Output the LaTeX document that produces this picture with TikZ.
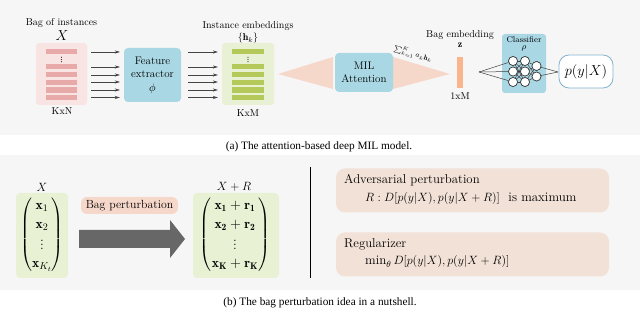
\documentclass[tikz,border=0pt]{standalone}
\usepackage{amsmath,amssymb}
\usepackage{fontspec}
\newfontfamily\capfont{Liberation Serif}
\usetikzlibrary{arrows.meta,calc}
\definecolor{panelgray}{HTML}{F6F6F6}
\definecolor{pinkbg}{HTML}{F9E4E4}
\definecolor{pinkbar}{HTML}{E8A9A9}
\definecolor{bluebox}{HTML}{A9D7E4}
\definecolor{greenbg}{HTML}{E9F1D5}
\definecolor{greenbar}{HTML}{B5C85A}
\definecolor{peach}{HTML}{F6D8CB}
\definecolor{peachbox}{HTML}{F2E1D6}
\definecolor{orangebar}{HTML}{FBB58A}
\definecolor{pborder}{HTML}{82B4CC}
\definecolor{bigarrow}{HTML}{676767}
\definecolor{arrgray}{HTML}{444444}
\tikzset{
  arr/.style={draw=arrgray, line width=0.6pt, -{Stealth[length=5pt,width=3.2pt]}},
  boxblue/.style={fill=bluebox, rounded corners=4pt, inner sep=0pt, align=center},
  neuron/.style={circle, draw=black!80, fill=white, line width=0.6pt, minimum size=9pt, inner sep=0pt},
  nnedge/.style={draw=black!75, line width=0.5pt},
  txt/.style={font=\fontsize{10}{12}\selectfont, inner sep=0pt},
  btxt/.style={font=\fontsize{12.8}{15}\selectfont, inner sep=0pt},
  ftxt/.style={font=\fontsize{13}{15}\selectfont, inner sep=0pt},
  mtxt/.style={font=\fontsize{13.6}{16.5}\selectfont, inner sep=0pt},
  captxt/.style={font=\capfont\fontsize{11.3}{13}\selectfont, inner sep=0pt},
}
\begin{document}
\begin{tikzpicture}[x=1pt,y=-1pt]
\useasboundingbox (0,0) rectangle (640,320);
% panels
\fill[panelgray] (0,0) rectangle (640,135);
\fill[panelgray] (0,155) rectangle (640,290);

% ---------- top panel ----------
\node[txt] (bagt) at (61.5,23) {Bag of instances};
\node[inner sep=0pt, font=\fontsize{14}{16}\selectfont] (bagX) at (62,36) {$X$};
\node[fill=pinkbg, rounded corners=3pt, minimum width=51pt, minimum height=62pt, inner sep=0pt] (bag) at (61.5,74) {};
\foreach \y in {51.5,66.5,74.5,82.5,90,97.5} \fill[pinkbar] (46,\y-2.6) rectangle (77,\y+2.6);
\foreach \d in {-2.2,0,2.2} \fill[black!80] (61.5,59.5+\d) circle (0.6);
\node[txt] (kxn) at (62,111) {KxN};

\node[boxblue, minimum width=57pt, minimum height=54pt, font=\fontsize{11}{13.5}\selectfont] (fe) at (152.5,75) {Feature\\extractor\\$\phi$};

\node[txt] (iet) at (248,26) {Instance embeddings};
\node[txt] (hk) at (248,38.5) {$\{\mathbf{h}_k\}$};
\node[fill=greenbg, rounded corners=3pt, minimum width=52pt, minimum height=62pt, inner sep=0pt] (emb) at (248,74) {};
\foreach \y in {51.5,66.5,74.5,82.5,90,97.5} \fill[greenbar] (232,\y-2.6) rectangle (264,\y+2.6);
\foreach \d in {-2.2,0,2.2} \fill[black!80] (248,59.5+\d) circle (0.6);
\node[txt] (kxm) at (248,113) {KxM};

\foreach \y in {52,67,75,82,90,97.5} {
  \draw[arr] ($(bag.east |- 0,\y)+(4,0)$) -- ($(fe.west |- 0,\y)+(-4,0)$);
  \draw[arr] ($(fe.east |- 0,\y)+(7,0)$) -- ($(emb.west |- 0,\y)+(-4,0)$);
}

% attention
\coordinate (tl) at (278,74);
\coordinate (tr) at (450,74);
\fill[peach] (tl) -- (333,57) -- (333,89) -- cycle;
\fill[peach] (393,57) -- (393,89) -- (tr) -- cycle;
\node[boxblue, minimum width=58pt, minimum height=39pt, font=\fontsize{11}{13.5}\selectfont] (mil) at (364,72.5) {MIL\\Attention};
\node[inner sep=0pt, rotate=-16.6, font=\fontsize{7}{8}\selectfont] (sum) at (413,54) {$\sum_{k=1}^{K} a_k\mathbf{h}_k$};

% bag embedding
\node[txt] (bet) at (460,35) {Bag embedding};
\node[txt] (z) at (460,45.5) {$\mathbf{z}$};
\fill[orangebar] (457,57) rectangle (463,88);
\node[txt] (oxm) at (460,96) {1xM};

% classifier
\node[fill=bluebox, rounded corners=3pt, minimum width=44pt, minimum height=59pt, inner sep=0pt] (cls) at (524,63.5) {};
\node[inner sep=0pt, font=\fontsize{8.3}{10}\selectfont] (clst) at (524,40) {Classifier};
\node[inner sep=0pt, font=\fontsize{9}{10}\selectfont] (rho) at (524,48.5) {$\rho$};
\coordinate (nin) at (479,72);
\coordinate (nout) at (558,72);
\foreach \i/\y in {1/61,2/71.5,3/82} {
  \node[neuron] (a\i) at (513,\y) {};
  \node[neuron] (b\i) at (525,\y) {};
}
\node[neuron] (c1) at (536.5,66) {};
\node[neuron] (c2) at (536.5,76.5) {};
\foreach \i in {1,2,3} {
  \draw[nnedge] (nin) -- (a\i);
  \foreach \j in {1,2,3} \draw[nnedge] (a\i) -- (b\j);
  \foreach \j in {1,2} \draw[nnedge] (b\i) -- (c\j);
}
\foreach \j in {1,2} \draw[nnedge] (c\j) -- (nout);
\foreach \i/\y in {1/61,2/71.5,3/82} {
  \node[neuron] at (513,\y) {};
  \node[neuron] at (525,\y) {};
}
\node[neuron] at (536.5,66) {};
\node[neuron] at (536.5,76.5) {};

\node[draw=pborder, line width=0.8pt, fill=white, rounded corners=10pt, minimum width=54pt, minimum height=33pt, inner sep=0pt, font=\fontsize{14}{16}\selectfont] (pyx) at (586,71.5) {$p(y|X)$};

\node[captxt] (capa) at (319,147) {(a) The attention-based deep MIL model.};

% ---------- bottom panel ----------
\node[inner sep=0pt, font=\fontsize{13}{15}\selectfont] (Xl) at (42,187) {$X$};
\node[fill=greenbg, rounded corners=4pt, minimum width=52pt, minimum height=85pt, inner sep=0pt] (lm) at (42,235.5) {};
\node[mtxt] (lmat) at (42,235) {$\renewcommand{\arraystretch}{1.12}\begin{pmatrix}\mathbf{x}_1\\ \mathbf{x}_2\\ \vdots\\ \mathbf{x}_{K_t}\end{pmatrix}$};

\node[fill=peach, rounded corners=6pt, minimum width=97pt, minimum height=17pt, inner sep=0pt, font=\fontsize{11.8}{14}\selectfont] (bp) at (129.5,205.5) {Bag perturbation};
\fill[bigarrow] (79,230) -- (170,230) -- (170,220) -- (185,239) -- (170,258) -- (170,248) -- (79,248) -- cycle;

\node[inner sep=0pt, font=\fontsize{13}{15}\selectfont] (XR) at (234,187) {$X+R$};
\node[fill=greenbg, rounded corners=4pt, minimum width=86pt, minimum height=85pt, inner sep=0pt] (rm) at (236,235.5) {};
\node[mtxt] (rmat) at (235,235) {$\renewcommand{\arraystretch}{1.12}\begin{pmatrix}\mathbf{x_1}+\mathbf{r_1}\\ \mathbf{x_2}+\mathbf{r_2}\\ \vdots\\ \mathbf{x_K}+\mathbf{r_K}\end{pmatrix}$};

\coordinate (vt) at (310,167);
\coordinate (vb) at (310,278);
\draw[black, line width=0.8pt] (vt) -- (vb);

\node[fill=peachbox, rounded corners=9pt, minimum width=273pt, minimum height=44pt, inner sep=0pt] (adv) at (472.5,190.5) {};
\node[btxt, anchor=west] (advt) at (344,180) {Adversarial perturbation};
\node[ftxt, anchor=west] (advf) at (365,199) {$R: D[p(y|X),p(y|X+R)]$\ \ is maximum};

\node[fill=peachbox, rounded corners=9pt, minimum width=273pt, minimum height=44pt, inner sep=0pt] (reg) at (472.5,254.5) {};
\node[btxt, anchor=west] (regt) at (344,244) {Regularizer};
\node[ftxt, anchor=west] (regf) at (365,262) {$\min_\theta D[p(y|X),p(y|X+R)]$};

\node[captxt] (capb) at (320,303) {(b) The bag perturbation idea in a nutshell.};
\end{tikzpicture}
\end{document}
